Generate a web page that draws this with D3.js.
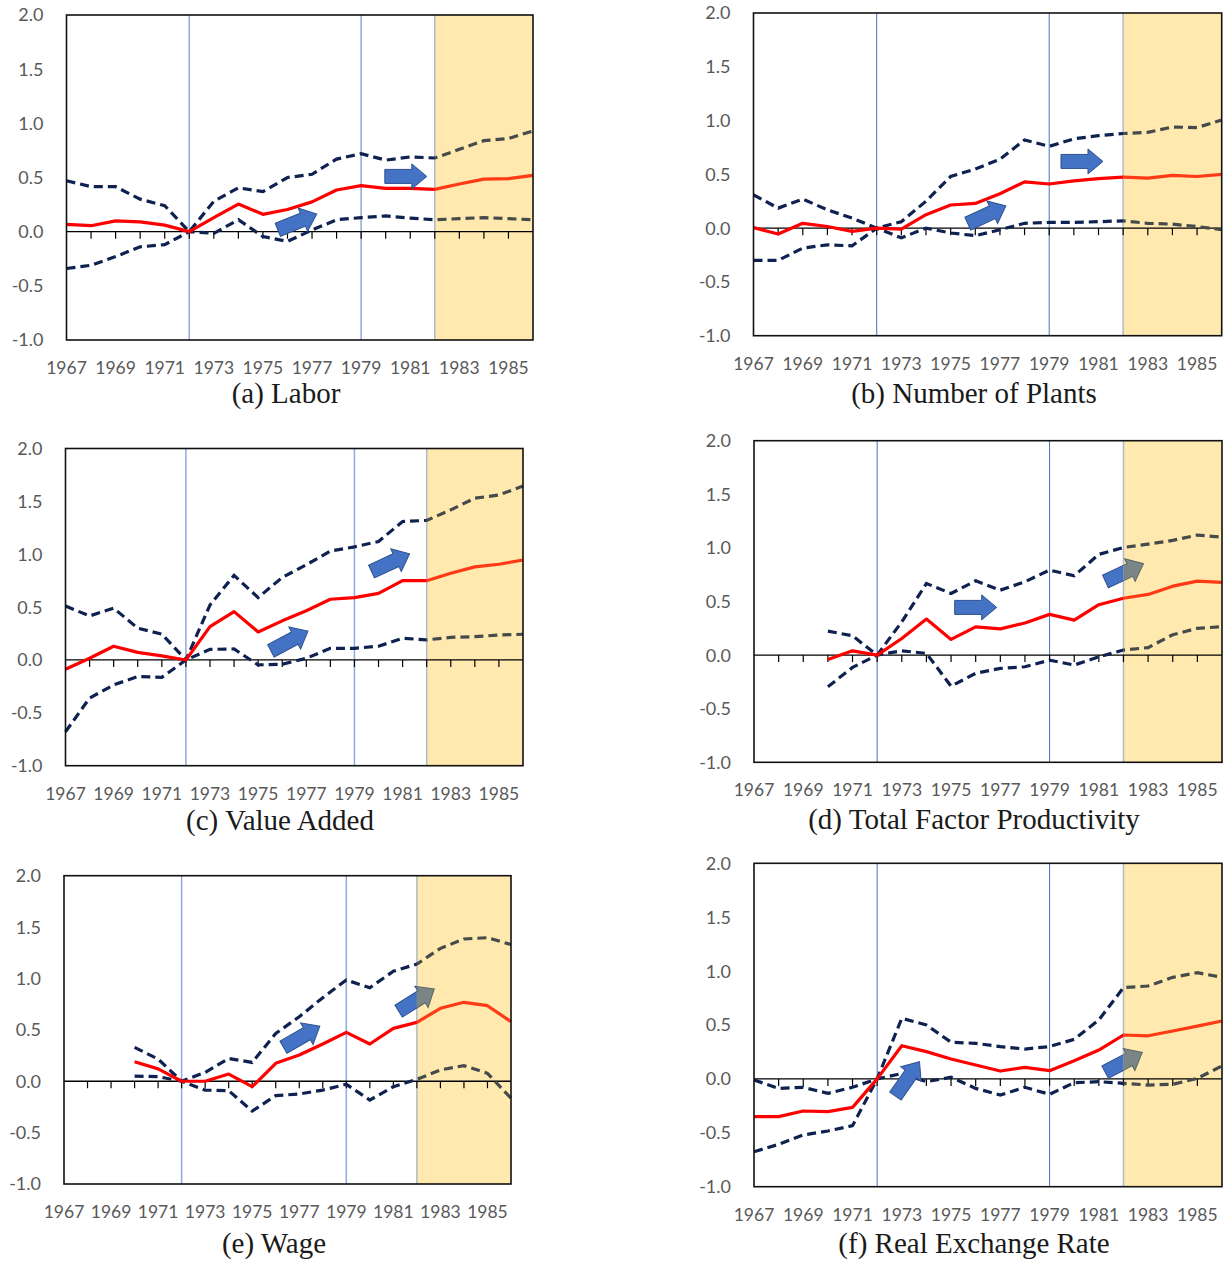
<!DOCTYPE html>
<html>
<head>
<meta charset="utf-8">
<script src="https://cdn.jsdelivr.net/npm/d3@7/dist/d3.min.js"></script>
<style>
  body { margin: 0; background: #fff; }
  svg { display: block; }
</style>
</head>
<body>
<svg id="fig" width="1225" height="1268"></svg>
<script>
// ---- data ----
var years = [1967,1968,1969,1970,1971,1972,1973,1974,1975,1976,1977,1978,1979,1980,1981,1982,1983,1984,1985,1986];
var yearLabels = [1967,1969,1971,1973,1975,1977,1979,1981,1983,1985];
var yTicks = [2.0,1.5,1.0,0.5,0.0,-0.5,-1.0];
var breakYears = [1972, 1979];
var shadeStart = 1982;

var labor   = [0.068,0.055,0.10,0.09,0.06,0,0.13,0.255,0.16,0.205,0.275,0.385,0.425,0.40,0.40,0.39,0.44,0.485,0.49,0.52];
var laborUp = [0.47,0.415,0.415,0.30,0.24,0,0.28,0.405,0.37,0.50,0.53,0.67,0.72,0.66,0.69,0.68,0.76,0.84,0.86,0.93];
var laborLo = [-0.34,-0.31,-0.23,-0.14,-0.12,0,-0.015,0.11,-0.045,-0.09,0.015,0.11,0.13,0.145,0.125,0.11,0.12,0.13,0.12,0.11];

var plants   = [0.005,-0.055,0.045,0.015,-0.03,0,-0.01,0.125,0.215,0.23,0.32,0.43,0.41,0.44,0.46,0.475,0.465,0.49,0.48,0.50];
var plantsUp = [0.31,0.186,0.27,0.17,0.093,0,0.06,0.25,0.48,0.55,0.64,0.82,0.76,0.83,0.86,0.88,0.89,0.94,0.935,1.005];
var plantsLo = [-0.30,-0.30,-0.185,-0.155,-0.165,0,-0.09,0,-0.045,-0.07,-0.015,0.045,0.053,0.053,0.06,0.068,0.045,0.037,0.015,-0.015];

var valueAdded   = [-0.088,0.016,0.13,0.072,0.038,0,0.315,0.457,0.265,0.37,0.466,0.574,0.59,0.63,0.75,0.75,0.82,0.88,0.905,0.945];
var valueAddedUp = [0.51,0.416,0.49,0.30,0.245,0,0.52,0.80,0.59,0.78,0.90,1.03,1.07,1.12,1.31,1.32,1.42,1.53,1.56,1.645];
var valueAddedLo = [-0.68,-0.36,-0.236,-0.157,-0.164,0,0.10,0.104,-0.047,-0.04,0.016,0.11,0.11,0.13,0.205,0.19,0.214,0.22,0.236,0.243];

var tfp   = [null,null,null,-0.04,0.04,0,0.155,0.336,0.146,0.264,0.245,0.30,0.38,0.326,0.47,0.53,0.566,0.643,0.69,0.678];
var tfpUp = [null,null,null,0.224,0.18,0,0.31,0.668,0.575,0.693,0.606,0.684,0.793,0.74,0.94,1.004,1.035,1.07,1.12,1.10];
var tfpLo = [null,null,null,-0.295,-0.115,0,0.04,0.016,-0.29,-0.17,-0.124,-0.109,-0.047,-0.093,-0.016,0.047,0.07,0.19,0.25,0.265];

var wage   = [null,null,null,0.19,0.12,0,0,0.07,-0.053,0.174,0.255,0.362,0.476,0.362,0.514,0.573,0.71,0.768,0.735,0.58];
var wageUp = [null,null,null,0.33,0.216,0,0.086,0.222,0.183,0.465,0.628,0.813,0.985,0.91,1.07,1.14,1.293,1.384,1.397,1.33];
var wageLo = [null,null,null,0.05,0.045,0,-0.086,-0.092,-0.29,-0.14,-0.124,-0.086,-0.03,-0.183,-0.053,0.018,0.11,0.152,0.077,-0.166];

var rer   = [-0.35,-0.35,-0.298,-0.304,-0.264,0,0.308,0.253,0.185,0.129,0.073,0.107,0.076,0.169,0.268,0.407,0.40,0.444,0.49,0.537];
var rerUp = [-0.01,-0.088,-0.078,-0.134,-0.078,0,0.562,0.50,0.34,0.33,0.30,0.277,0.30,0.367,0.547,0.847,0.862,0.942,0.985,0.942];
var rerLo = [-0.675,-0.607,-0.52,-0.483,-0.434,0,0.05,-0.026,0.015,-0.088,-0.15,-0.078,-0.143,-0.035,-0.026,-0.041,-0.057,-0.05,0.005,0.12];

// arrow annotations: [year, value, angle]
var laborArrows  = [[1980.82,0.51,0],[1976.4,0.09,-22]];
var plantsArrows = [[1980.33,0.62,0],[1976.47,0.124,-25]];
var vaArrows     = [[1980.5,0.92,-25],[1976.3,0.18,-28]];
var tfpArrows    = [[1976.0,0.445,0],[1982.04,0.77,-25]];
var wageArrows   = [[1977.1,0.434,-30],[1981.98,0.79,-32]];
var rerArrows    = [[1973.23,0.0,-55],[1982.01,0.154,-28]];

var titles = ["(a) Labor","(b) Number of Plants","(c) Value Added","(d) Total Factor Productivity","(e) Wage","(f) Real Exchange Rate"];

// ---- layout ----
var panels = [
  {mid:labor, up:laborUp, lo:laborLo, arrows:laborArrows, box:[66.5,15,533,340], cap:[286,403], vcol:"#8FAADC", vw:1.5},
  {mid:plants, up:plantsUp, lo:plantsLo, arrows:plantsArrows, box:[753.5,13,1221.7,335.7], cap:[974,403], vcol:"#4472C4", vw:1},
  {mid:valueAdded, up:valueAddedUp, lo:valueAddedLo, arrows:vaArrows, box:[65.5,448.5,523,765.7], cap:[280,830], vcol:"#8FAADC", vw:1.5},
  {mid:tfp, up:tfpUp, lo:tfpLo, arrows:tfpArrows, box:[754,440.7,1222,762.3], cap:[974,829], vcol:"#4472C4", vw:1},
  {mid:wage, up:wageUp, lo:wageLo, arrows:wageArrows, box:[64,875.7,511,1184], cap:[274,1253], vcol:"#8FAADC", vw:1.5},
  {mid:rer, up:rerUp, lo:rerLo, arrows:rerArrows, box:[754,863.3,1222,1186.7], cap:[974,1253], vcol:"#4472C4", vw:1}
];

var svg = d3.select("#fig");
var defs = svg.append("defs");

var arrowPath = "M-21,-7L6,-7L6,-12.5L21,0L6,12.5L6,7L-21,7Z";
var fmt = function(d) { return d3.format(".1f")(d).replace("\u2212", "-"); };

function drawPanel(p, i) {
  var g = svg.append("g");
  var x = d3.scaleLinear().domain([1967,1986]).range([p.box[0], p.box[2]]);
  var y = d3.scaleLinear().domain([-1,2]).range([p.box[3], p.box[1]]);

  // clip regions before / inside the shaded period
  defs.append("clipPath").attr("id","pre"+i).append("rect")
    .attr("x", x(1967)-30).attr("y", y(2)-60)
    .attr("width", x(shadeStart)-x(1967)+30).attr("height", y(-1)-y(2)+120);
  defs.append("clipPath").attr("id","post"+i).append("rect")
    .attr("x", x(shadeStart)).attr("y", y(2)-60)
    .attr("width", x(1986)-x(shadeStart)+30).attr("height", y(-1)-y(2)+120);

  // shaded period
  g.append("rect")
    .attr("x", x(shadeStart)).attr("y", y(2))
    .attr("width", x(1986)-x(shadeStart)).attr("height", y(-1)-y(2))
    .attr("fill", "#FFE9AF");
  g.append("line")
    .attr("x1", x(shadeStart)).attr("x2", x(shadeStart))
    .attr("y1", y(2)).attr("y2", y(-1))
    .attr("stroke", "#AFBACB").attr("stroke-width", 1.5);

  // break lines
  g.selectAll("line.brk").data(breakYears).enter().append("line")
    .attr("class","brk")
    .attr("x1", function(d){ return x(d); }).attr("x2", function(d){ return x(d); })
    .attr("y1", y(2)).attr("y2", y(-1))
    .attr("stroke", p.vcol).attr("stroke-width", p.vw);

  // zero line with ticks
  g.append("line")
    .attr("x1", x(1967)).attr("x2", x(1986))
    .attr("y1", y(0)).attr("y2", y(0))
    .attr("stroke", "#000").attr("stroke-width", 1.3);
  g.selectAll("line.tk").data(years.slice(1, years.length-1)).enter().append("line")
    .attr("class","tk")
    .attr("x1", function(d){ return x(d); }).attr("x2", function(d){ return x(d); })
    .attr("y1", y(0)).attr("y2", y(0)+7)
    .attr("stroke", "#000").attr("stroke-width", 1.2);

  // series
  function pts(arr) { return years.map(function(yr, k){ return [yr, arr[k]]; }); }
  var line = d3.line()
    .defined(function(d){ return d[1] !== null; })
    .x(function(d){ return x(d[0]); })
    .y(function(d){ return y(d[1]); });

  var styles = [
    {clip:"pre", band:"#0E2150", mid:"#FF0000", afill:"#4472C4", astroke:"#2F528F"},
    {clip:"post", band:"#454B4B", mid:"#FF3A14", afill:"#7A8686", astroke:"#5B6565"}
  ];
  styles.forEach(function(s) {
    var sg = g.append("g").attr("clip-path", "url(#" + s.clip + i + ")");
    [p.up, p.lo].forEach(function(arr) {
      sg.append("path").datum(pts(arr))
        .attr("d", line).attr("fill","none")
        .attr("stroke", s.band).attr("stroke-width", 3.2)
        .attr("stroke-dasharray", "9,5");
    });
    sg.append("path").datum(pts(p.mid))
      .attr("d", line).attr("fill","none")
      .attr("stroke", s.mid).attr("stroke-width", 3.2)
      .attr("stroke-linejoin","round");
    sg.selectAll("path.arw").data(p.arrows).enter().append("path")
      .attr("class","arw")
      .attr("d", arrowPath)
      .attr("transform", function(d){ return "translate(" + x(d[0]) + "," + y(d[1]) + ") rotate(" + d[2] + ")"; })
      .attr("fill", s.afill).attr("stroke", s.astroke).attr("stroke-width", 1);
  });

  // frame
  g.append("rect")
    .attr("x", x(1967)).attr("y", y(2))
    .attr("width", x(1986)-x(1967)).attr("height", y(-1)-y(2))
    .attr("fill","none").attr("stroke","#111").attr("stroke-width",1.6);

  // y labels
  g.selectAll("text.yl").data(yTicks).enter().append("text")
    .attr("class","yl")
    .attr("x", x(1967)-23).attr("y", function(d){ return y(d); })
    .attr("dy","0.36em").attr("text-anchor","end")
    .attr("font-family","Lato, 'Open Sans', sans-serif").attr("font-size","18px")
    .attr("fill","#595959")
    .text(fmt);

  // x labels
  g.selectAll("text.xl").data(yearLabels).enter().append("text")
    .attr("class","xl")
    .attr("x", function(d){ return x(d); }).attr("y", y(-1)+34)
    .attr("text-anchor","middle")
    .attr("font-family","Lato, 'Open Sans', sans-serif").attr("font-size","17.5px")
    .attr("fill","#595959")
    .text(function(d){ return d; });

  // caption
  g.append("text")
    .attr("x", p.cap[0]).attr("y", p.cap[1])
    .attr("text-anchor","middle")
    .attr("font-family","'Liberation Serif', 'DejaVu Serif', serif").attr("font-size","29px")
    .attr("fill","#1a1a1a")
    .text(titles[i]);
}

panels.forEach(drawPanel);
</script>
</body>
</html>
